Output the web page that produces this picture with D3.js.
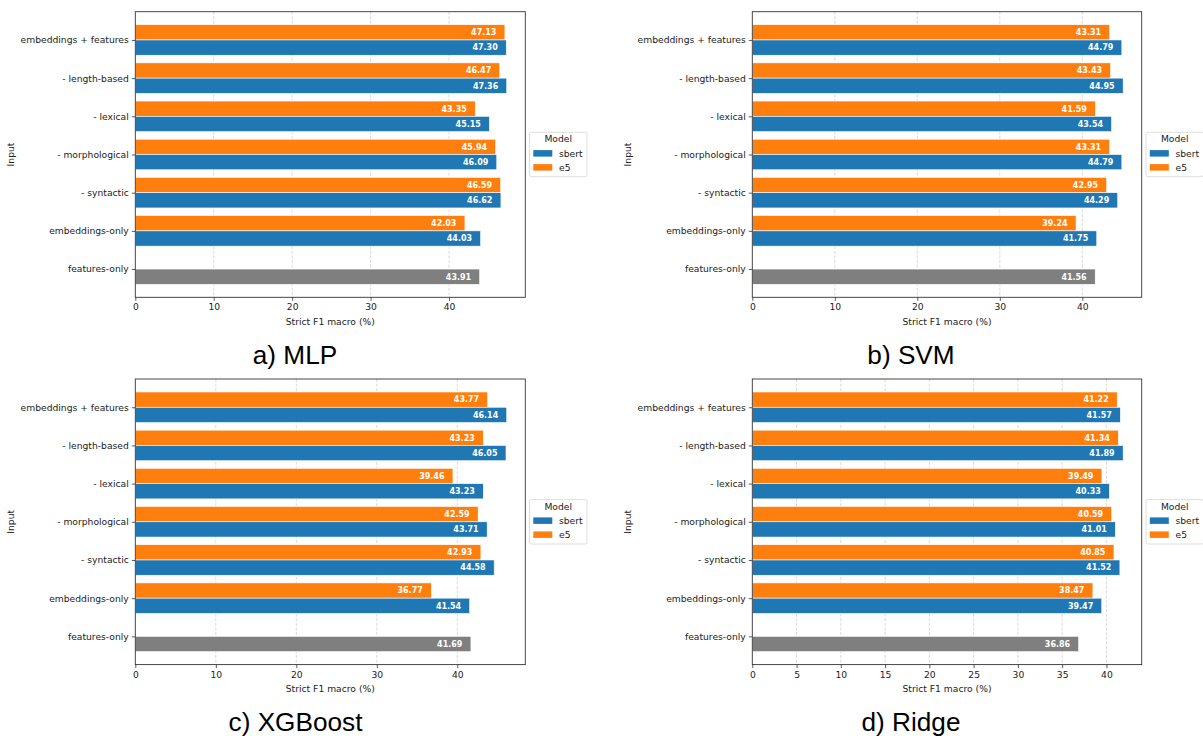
<!DOCTYPE html>
<html><head><meta charset="utf-8">
<script src="https://cdn.jsdelivr.net/npm/d3@7"></script>
<style>body{margin:0;background:#fff} svg{display:block} text{font-family:"DejaVu Sans",sans-serif}</style>
</head><body><svg id="c" width="1203" height="736"></svg>
<script>
// ---------- data ----------
const categories = ["embeddings + features", "- length-based", "- lexical", "- morphological", "- syntactic", "embeddings-only", "features-only"];
const models = ["sbert", "e5"];
const panelTitles = ["a) MLP", "b) SVM", "c) XGBoost", "d) Ridge"];
const xLabel = "Strict F1 macro (%)";
const yLabel = "Input";
const legendTitle = "Model";

const mlpSbert = [47.30, 47.36, 45.15, 46.09, 46.62, 44.03];
const mlpE5 = [47.13, 46.47, 43.35, 45.94, 46.59, 42.03];
const mlpFeaturesOnly = 43.91;

const svmSbert = [44.79, 44.95, 43.54, 44.79, 44.29, 41.75];
const svmE5 = [43.31, 43.43, 41.59, 43.31, 42.95, 39.24];
const svmFeaturesOnly = 41.56;

const xgbSbert = [46.14, 46.05, 43.23, 43.71, 44.58, 41.54];
const xgbE5 = [43.77, 43.23, 39.46, 42.59, 42.93, 36.77];
const xgbFeaturesOnly = 41.69;

const ridgeSbert = [41.57, 41.89, 40.33, 41.01, 41.52, 39.47];
const ridgeE5 = [41.22, 41.34, 39.49, 40.59, 40.85, 38.47];
const ridgeFeaturesOnly = 36.86;

const ticksBy10 = [0, 10, 20, 30, 40];
const ticksBy5 = [0, 5, 10, 15, 20, 25, 30, 35, 40];

// ---------- styling ----------
const colors = {sbert: "#1f77b4", e5: "#ff7f0e", features: "#7f7f7f"};
const FS = 9.2;

const panels = [
  {title: panelTitles[0], sbert: mlpSbert, e5: mlpE5, feat: mlpFeaturesOnly, ticks: ticksBy10,
   L: 135.3, R: 525.3, T: 11.7, B: 297.3, yLab: 11.1, titleX: 295, titleY: 364.3, legX: 529.5},
  {title: panelTitles[1], sbert: svmSbert, e5: svmE5, feat: svmFeaturesOnly, ticks: ticksBy10,
   L: 752.3, R: 1141.7, T: 11.7, B: 297.3, yLab: 627.5, titleX: 911, titleY: 364.3, legX: 1146},
  {title: panelTitles[2], sbert: xgbSbert, e5: xgbE5, feat: xgbFeaturesOnly, ticks: ticksBy10,
   L: 135.3, R: 525.3, T: 379, B: 664.6, yLab: 11.1, titleX: 295.5, titleY: 731, legX: 529.5},
  {title: panelTitles[3], sbert: ridgeSbert, e5: ridgeE5, feat: ridgeFeaturesOnly, ticks: ticksBy5,
   L: 752.3, R: 1141.7, T: 379, B: 664.6, yLab: 627.5, titleX: 911, titleY: 731, legX: 1146}
];

const svg = d3.select("#c");

panels.forEach(p => {
  const g = svg.append("g");
  const maxV = d3.max([...p.sbert, ...p.e5, p.feat]);
  const x = d3.scaleLinear().domain([0, maxV * 1.05]).range([p.L, p.R]);
  const y = d3.scaleLinear().domain([-0.74, 6.74]).range([p.T, p.B]);

  // grid
  g.append("g").selectAll("line").data(p.ticks.filter(t => t > 0)).join("line")
    .attr("x1", d => x(d)).attr("x2", d => x(d)).attr("y1", p.T).attr("y2", p.B)
    .attr("stroke", "#cfcfcf").attr("stroke-width", 0.8).attr("stroke-dasharray", "3,1.6");

  // bars
  const rows = [];
  p.e5.forEach((v, i) => rows.push({v, y0: i - 0.4, y1: i, c: colors.e5}));
  p.sbert.forEach((v, i) => rows.push({v, y0: i, y1: i + 0.4, c: colors.sbert}));
  rows.push({v: p.feat, y0: 6, y1: 6.4, c: colors.features});

  g.append("g").selectAll("rect").data(rows).join("rect")
    .attr("x", x(0)).attr("y", d => y(d.y0))
    .attr("width", d => x(d.v) - x(0)).attr("height", d => y(d.y1) - y(d.y0))
    .attr("fill", d => d.c).attr("stroke", "#fff").attr("stroke-width", 0.6);

  g.append("g").selectAll("text").data(rows).join("text")
    .attr("x", d => x(d.v) - 8.5).attr("y", d => (y(d.y0) + y(d.y1)) / 2)
    .attr("dy", "0.36em").attr("text-anchor", "end")
    .attr("font-size", 8).attr("font-weight", "bold").attr("fill", "#fff")
    .text(d => d.v.toFixed(2));

  // axes
  const ax = g.append("g").attr("transform", `translate(0,${p.B})`)
    .call(d3.axisBottom(x).tickValues(p.ticks).tickFormat(d3.format("d")).tickSize(3.5).tickPadding(3));
  const ay = g.append("g").attr("transform", `translate(${p.L},0)`)
    .call(d3.axisLeft(y).tickValues(d3.range(categories.length)).tickFormat(i => categories[i]).tickSize(3.5).tickPadding(3));
  [ax, ay].forEach(a => {
    a.select(".domain").remove();
    a.selectAll("line").attr("stroke", "#333").attr("stroke-width", 0.8);
    a.selectAll("text").attr("font-size", FS).attr("fill", "#222").attr("font-family", "DejaVu Sans");
  });

  // frame
  g.append("rect").attr("x", p.L).attr("y", p.T).attr("width", p.R - p.L).attr("height", p.B - p.T)
    .attr("fill", "none").attr("stroke", "#333").attr("stroke-width", 0.9);

  // axis labels
  g.append("text").attr("x", (p.L + p.R) / 2).attr("y", p.B + 27.5).attr("text-anchor", "middle")
    .attr("font-size", FS).attr("fill", "#222").text(xLabel);
  g.append("text").attr("transform", `translate(${p.yLab + 3.3},${(p.T + p.B) / 2}) rotate(-90)`)
    .attr("text-anchor", "middle").attr("font-size", FS).attr("fill", "#222").text(yLabel);

  // title
  g.append("text").attr("x", p.titleX).attr("y", p.titleY).attr("text-anchor", "middle")
    .attr("font-size", 26.2).attr("fill", "#000").style("font-family", "'Liberation Sans', Arial, sans-serif")
    .text(p.title);

  // legend
  const cy = (p.T + p.B) / 2;
  const lg = g.append("g").attr("transform", `translate(${p.legX},${cy - 22.2})`);
  lg.append("rect").attr("x", 0).attr("y", 0).attr("width", 57.5).attr("height", 44.4)
    .attr("rx", 2).attr("fill", "#fff").attr("stroke", "#d6d6d6").attr("stroke-width", 0.8);
  lg.append("text").attr("x", 28.7).attr("y", 6.6).attr("dy", "0.36em").attr("text-anchor", "middle")
    .attr("font-size", FS).attr("fill", "#222").text(legendTitle);
  models.forEach((m, k) => {
    const yy = 21 + k * 14;
    lg.append("rect").attr("x", 3.8).attr("y", yy - 3.2).attr("width", 19).attr("height", 6.5).attr("fill", colors[m]);
    lg.append("text").attr("x", 29.5).attr("y", yy).attr("dy", "0.36em").attr("font-size", FS).attr("fill", "#222").text(m);
  });
});
</script></body></html>
